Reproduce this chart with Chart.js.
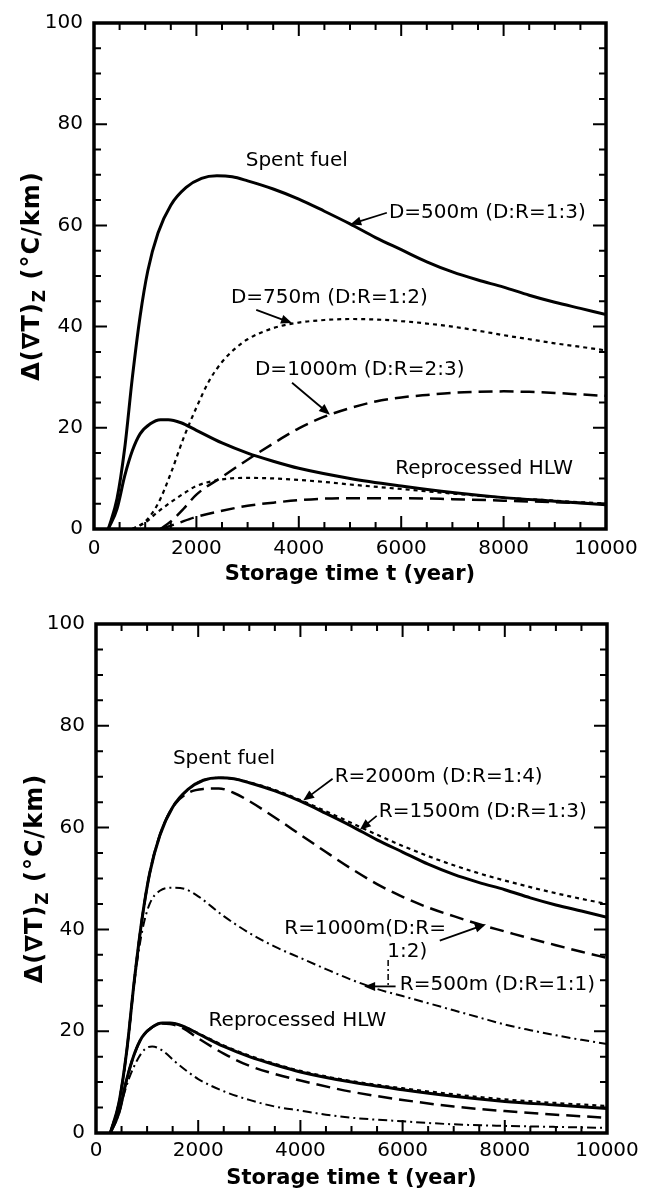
<!DOCTYPE html>
<html>
<head>
<meta charset="utf-8">
<script src="https://cdn.jsdelivr.net/npm/chart.js@4.4.1/dist/chart.umd.min.js"></script>
<style>
  body { margin: 0; background: #fff; }
  canvas { position: absolute; left: 0; }
  #topChart { top: 0; }
  #botChart { top: 595px; }
</style>
</head>
<body>
<canvas id="topChart" width="657" height="595"></canvas>
<canvas id="botChart" width="657" height="596"></canvas>
<script>
// storage time (years) and gradient change (degC/km)
const yearsSpent = [280, 450, 600, 750, 900, 1050, 1250, 1500, 1800, 2100, 2400, 2700, 3000, 3500, 4000, 4500, 5000, 5500, 6000, 6500, 7000, 7500, 8000, 8500, 9000, 9500, 10000];
const spentBase  = [0, 6, 16, 30, 42, 51, 58.5, 64, 67.5, 69.3, 69.8, 69.6, 68.8, 67.2, 65.2, 62.8, 60.3, 57.6, 55.2, 52.8, 50.8, 49.2, 47.8, 46.2, 44.8, 43.6, 42.4];
const spentR2000 = [0, 6, 16, 30, 42, 51, 58.5, 64, 67.5, 69.3, 69.8, 69.6, 68.9, 67.4, 65.4, 63.2, 60.9, 58.6, 56.4, 54.4, 52.6, 51.0, 49.6, 48.3, 47.1, 46.0, 45.0];
const spentR1000 = [0, 6, 16, 30, 42, 51, 58.5, 64, 66.8, 67.6, 67.7, 66.8, 65.2, 62.0, 58.6, 55.2, 51.9, 48.9, 46.4, 44.3, 42.6, 41.0, 39.6, 38.2, 36.9, 35.6, 34.4];

const yearsR500 = [280, 450, 600, 750, 900, 1050, 1250, 1500, 1750, 2000, 2500, 3000, 3500, 4000, 4500, 5000, 5500, 6000, 6500, 7000, 7500, 8000, 8500, 9000, 9500, 10000];
const spentR500 = [0, 6, 16, 29.5, 39.5, 45, 47.6, 48.2, 47.9, 46.5, 42.6, 39.3, 36.6, 34.4, 32.2, 30.1, 28.3, 26.9, 25.5, 24.1, 22.7, 21.3, 20.2, 19.2, 18.3, 17.5];

const yearsD750 = [750, 1000, 1250, 1500, 1750, 2000, 2250, 2500, 2750, 3000, 3500, 4000, 4500, 5000, 5500, 6000, 6500, 7000, 7500, 8000, 8500, 9000, 9500, 10000];
const spentD750 = [0, 1.5, 5, 11, 18, 24, 29.3, 33, 35.6, 37.5, 39.7, 40.8, 41.3, 41.5, 41.4, 41.1, 40.6, 40.0, 39.2, 38.3, 37.5, 36.7, 36.0, 35.3];

const yearsD1000 = [1300, 1500, 1750, 2000, 2500, 3000, 3500, 4000, 4500, 5000, 5500, 6000, 6500, 7000, 7500, 8000, 8500, 9000, 9500, 10000];
const spentD1000 = [0, 1.5, 4.0, 6.8, 10.3, 13.7, 16.9, 19.9, 22.2, 23.9, 25.2, 26.0, 26.5, 26.9, 27.1, 27.2, 27.1, 26.9, 26.6, 26.3];

const yearsHlw = [280, 450, 600, 750, 900, 1100, 1300, 1450, 1700, 2000, 2500, 3000, 3500, 4000, 5000, 6000, 7000, 8000, 9000, 10000];
const hlwBase  = [0, 4, 10.5, 15.5, 18.8, 20.8, 21.6, 21.6, 21.0, 19.5, 17.0, 15.0, 13.4, 12.0, 10.0, 8.5, 7.2, 6.2, 5.5, 4.8];
const hlwR2000 = [0, 4, 10.5, 15.5, 18.8, 20.8, 21.6, 21.6, 21.0, 19.6, 17.2, 15.2, 13.6, 12.2, 10.2, 8.8, 7.6, 6.6, 5.9, 5.3];
const hlwR1000 = [0, 4, 10.5, 15.5, 18.8, 20.8, 21.5, 21.4, 20.6, 18.6, 15.6, 13.2, 11.6, 10.3, 8.1, 6.5, 5.2, 4.3, 3.6, 3.0];

const yearsHlwR500 = [280, 450, 650, 800, 950, 1100, 1300, 1550, 1800, 2000, 2500, 3000, 3500, 4000, 4500, 5000, 6000, 7000, 8000, 9000, 10000];
const hlwR500 = [0, 4.5, 10.8, 14.2, 16.4, 17.0, 16.2, 14.0, 12.0, 10.6, 8.2, 6.5, 5.2, 4.4, 3.6, 3.0, 2.3, 1.7, 1.4, 1.2, 1.0];

const yearsHlwD750 = [750, 1000, 1250, 1500, 1750, 2000, 2500, 3000, 3500, 4000, 4500, 5000, 6000, 7000, 8000, 9000, 10000];
const hlwD750 = [0, 1.3, 3.4, 5.3, 7.0, 8.5, 9.8, 10.1, 10.0, 9.7, 9.3, 8.8, 7.9, 7.0, 6.2, 5.6, 5.0];

const yearsHlwD1000 = [1300, 1600, 2000, 2500, 3000, 3500, 4000, 4500, 5000, 6000, 7000, 8000, 9000, 10000];
const hlwD1000 = [0, 1.0, 2.4, 3.6, 4.6, 5.2, 5.7, 6.0, 6.1, 6.1, 5.9, 5.6, 5.3, 5.0];

const xTicks = { min: 0, max: 10000, step: 2000 };
const yTicks = { min: 0, max: 100, step: 20 };

const FONT = '"DejaVu Sans", sans-serif';

const styles = {
  solid:  { borderWidth: 3,   borderDash: [] },
  dotted: { borderWidth: 2.2, borderDash: [4, 4] },
  dashed: { borderWidth: 2.5, borderDash: [14, 7] },
  dashdot:{ borderWidth: 2,   borderDash: [9, 4, 2, 4] }
};

function series(xs, ys, kind) {
  return Object.assign({
    data: xs.map((t, i) => ({ x: t, y: ys[i] })),
    borderColor: '#000',
    pointRadius: 0,
    fill: false,
    cubicInterpolationMode: 'monotone'
  }, styles[kind]);
}

// frame with inward ticks on all four sides
const framePlugin = {
  id: 'frame',
  afterDatasetsDraw(chart) {
    const { ctx, chartArea: a, scales: { x, y } } = chart;
    ctx.save();
    ctx.strokeStyle = '#000';
    ctx.lineWidth = 2;
    ctx.beginPath();
    for (let t = 500; t < 10000; t += 500) {
      const px = x.getPixelForValue(t);
      const len = t % 2000 === 0 ? 13 : 7;
      ctx.moveTo(px, a.bottom); ctx.lineTo(px, a.bottom - len);
      ctx.moveTo(px, a.top); ctx.lineTo(px, a.top + len);
    }
    for (let v = 5; v < 100; v += 5) {
      const py = y.getPixelForValue(v);
      const len = v % 20 === 0 ? 13 : 7;
      ctx.moveTo(a.left, py); ctx.lineTo(a.left + len, py);
      ctx.moveTo(a.right, py); ctx.lineTo(a.right - len, py);
    }
    ctx.stroke();
    ctx.lineWidth = 3.5;
    ctx.strokeRect(a.left, a.top, a.right - a.left, a.bottom - a.top);
    ctx.restore();
  }
};

function drawArrow(ctx, x1, y1, x2, y2) {
  const ang = Math.atan2(y2 - y1, x2 - x1);
  ctx.beginPath();
  ctx.moveTo(x1, y1);
  ctx.lineTo(x2 - 8 * Math.cos(ang), y2 - 8 * Math.sin(ang));
  ctx.stroke();
  ctx.beginPath();
  ctx.moveTo(x2, y2);
  ctx.lineTo(x2 - 11 * Math.cos(ang) + 4.5 * Math.sin(ang), y2 - 11 * Math.sin(ang) - 4.5 * Math.cos(ang));
  ctx.lineTo(x2 - 11 * Math.cos(ang) - 4.5 * Math.sin(ang), y2 - 11 * Math.sin(ang) + 4.5 * Math.cos(ang));
  ctx.closePath();
  ctx.fill();
}

// curve labels, arrows and the y-axis title (with subscript)
const notesPlugin = {
  id: 'notes',
  afterDraw(chart, args, opts) {
    const { ctx, chartArea: a, scales: { x, y } } = chart;
    ctx.save();
    ctx.fillStyle = '#000';
    ctx.strokeStyle = '#000';
    ctx.font = '20px ' + FONT;
    ctx.textAlign = 'left';
    ctx.textBaseline = 'middle';
    (opts.labels || []).forEach(l => {
      ctx.fillText(l.text, x.getPixelForValue(l.t), y.getPixelForValue(l.v));
    });
    ctx.lineWidth = 1.8;
    (opts.arrows || []).forEach(ar => {
      drawArrow(ctx, x.getPixelForValue(ar.from[0]), y.getPixelForValue(ar.from[1]),
        x.getPixelForValue(ar.to[0]), y.getPixelForValue(ar.to[1]));
    });
    (opts.leaders || []).forEach(ld => {
      ctx.setLineDash([6, 3, 2, 3]);
      ctx.lineWidth = 1.5;
      ctx.beginPath();
      ctx.moveTo(x.getPixelForValue(ld.from[0]), y.getPixelForValue(ld.from[1]));
      ctx.lineTo(x.getPixelForValue(ld.to[0]), y.getPixelForValue(ld.to[1]));
      ctx.stroke();
      ctx.setLineDash([]);
    });

    // y title: Δ(∇T)_Z (°C/km)
    const big = 'bold 24px ' + FONT, small = 'bold 17px ' + FONT;
    const p1 = 'Δ(∇T)', p2 = 'Z', p3 = ' (°C/km)';
    ctx.letterSpacing = '1px';
    ctx.font = big; const w1 = ctx.measureText(p1).width, w3 = ctx.measureText(p3).width;
    ctx.font = small; const w2 = ctx.measureText(p2).width;
    const total = w1 + w2 + w3;
    ctx.translate(opts.titleX, (a.top + a.bottom) / 2);
    ctx.rotate(-Math.PI / 2);
    ctx.textBaseline = 'alphabetic';
    let u = -total / 2;
    ctx.font = big; ctx.fillText(p1, u, 7); u += w1;
    ctx.font = small; ctx.fillText(p2, u, 13); u += w2;
    ctx.font = big; ctx.fillText(p3, u, 7);
    ctx.restore();
  }
};

function makeChart(id, datasets, box, notes) {
  return new Chart(document.getElementById(id), {
    type: 'line',
    data: { datasets: datasets },
    options: {
      responsive: false,
      animation: false,
      layout: { padding: { top: box.top, right: 657 - box.right, left: 0, bottom: 0 } },
      plugins: { legend: { display: false }, tooltip: { enabled: false }, notes: notes },
      scales: {
        x: {
          type: 'linear', min: xTicks.min, max: xTicks.max,
          grid: { display: false, drawTicks: false },
          border: { display: false },
          ticks: { stepSize: xTicks.step, autoSkip: false, maxRotation: 0, padding: box.xPad,
                   color: '#000', font: { size: 20, family: FONT },
                   callback: v => String(v) },
          title: { display: true, text: 'Storage time t (year)', color: '#000',
                   font: { size: 21, weight: 'bold', family: FONT },
                   padding: { top: 0, bottom: box.titlePad } },
          afterFit: s => { s.height = box.xH; }
        },
        y: {
          min: yTicks.min, max: yTicks.max,
          grid: { display: false, drawTicks: false },
          border: { display: false },
          ticks: { stepSize: yTicks.step, padding: 11, color: '#000', font: { size: 20, family: FONT },
                   callback: v => String(v) },
          afterFit: s => { s.width = box.left; }
        }
      }
    },
    plugins: [framePlugin, notesPlugin]
  });
}

makeChart('topChart', [
  series(yearsSpent, spentBase, 'solid'),
  series(yearsD750, spentD750, 'dotted'),
  series(yearsD1000, spentD1000, 'dashed'),
  series(yearsHlw, hlwBase, 'solid'),
  series(yearsHlwD750, hlwD750, 'dotted'),
  series(yearsHlwD1000, hlwD1000, 'dashed')
], { top: 16, left: 94, right: 606, xH: 66, xPad: 8, titlePad: 8 }, {
  titleX: 32,
  labels: [
    { text: 'Spent fuel', t: 2963, v: 72.7 },
    { text: 'D=500m (D:R=1:3)', t: 5761, v: 62.5 },
    { text: 'D=750m (D:R=1:2)', t: 2675, v: 45.7 },
    { text: 'D=1000m (D:R=2:3)', t: 3144, v: 31.5 },
    { text: 'Reprocessed HLW', t: 5885, v: 11.8 }
  ],
  arrows: [
    { from: [5720, 62.5], to: [5004, 60.2] },
    { from: [3169, 43.3], to: [3868, 40.7] },
    { from: [3868, 28.9], to: [4609, 22.6] }
  ]
});

makeChart('botChart', [
  series(yearsSpent, spentR2000, 'dotted'),
  series(yearsSpent, spentBase, 'solid'),
  series(yearsSpent, spentR1000, 'dashed'),
  series(yearsR500, spentR500, 'dashdot'),
  series(yearsHlw, hlwR2000, 'dotted'),
  series(yearsHlw, hlwBase, 'solid'),
  series(yearsHlw, hlwR1000, 'dashed'),
  series(yearsHlwR500, hlwR500, 'dashdot')
], { top: 29, left: 96, right: 607, xH: 58, xPad: 6, titlePad: 0 }, {
  titleX: 35,
  labels: [
    { text: 'Spent fuel', t: 1505, v: 73.5 },
    { text: 'R=2000m (D:R=1:4)', t: 4671, v: 69.9 },
    { text: 'R=1500m (D:R=1:3)', t: 5535, v: 63.2 },
    { text: 'R=1000m(D:R=', t: 3684, v: 40.1 },
    { text: '1:2)', t: 5700, v: 35.6 },
    { text: 'R=500m (D:R=1:1)', t: 5946, v: 29.2 },
    { text: 'Reprocessed HLW', t: 2204, v: 22.0 }
  ],
  arrows: [
    { from: [4630, 69.6], to: [4054, 65.3] },
    { from: [5493, 62.3], to: [5164, 59.6] },
    { from: [6727, 37.8], to: [7632, 41.0] },
    { from: [5863, 28.8], to: [5247, 28.8] }
  ],
  leaders: [
    { from: [5717, 34.0], to: [5717, 28.5] }
  ]
});
</script>
</body>
</html>
